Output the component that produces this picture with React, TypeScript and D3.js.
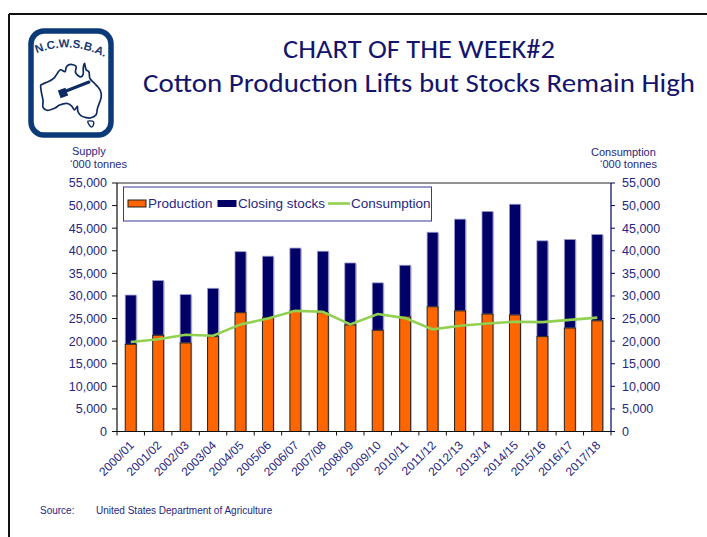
import React from 'react';
import * as d3 from 'd3';

const categories = ['2000/01','2001/02','2002/03','2003/04','2004/05','2005/06','2006/07','2007/08','2008/09','2009/10','2010/11','2011/12','2012/13','2013/14','2014/15','2015/16','2016/17','2017/18'];
const production = [19300, 21300, 19600, 21000, 26300, 25200, 26700, 26300, 23600, 22400, 25400, 27600, 26700, 26000, 25800, 21000, 22900, 24500];
const closingStocks = [10900, 12100, 10700, 10700, 13500, 13600, 13900, 13600, 13700, 10500, 11400, 16500, 20300, 22700, 24500, 21200, 19600, 19100];
const consumption = [19800, 20400, 21400, 21200, 23700, 25000, 26700, 26500, 23700, 26000, 25100, 22600, 23400, 23900, 24300, 24200, 24700, 25200];
const yTicks = [0, 5000, 10000, 15000, 20000, 25000, 30000, 35000, 40000, 45000, 50000, 55000];
const seriesNames = ['Production', 'Closing stocks', 'Consumption'];
const titleLines = ['CHART OF THE WEEK#2', 'Cotton Production Lifts but Stocks Remain High'];

// decorative logo outline (lon, lat)
const ausOutline: [number, number][] = [[113.5,-22],[114,-26],[115,-30],[115,-33.5],[117.5,-35],[123,-33.8],[126,-32.3],[131,-31.5],[134,-32.8],[135.8,-34.8],[137.7,-33],[138,-35.5],[140,-37.8],[143.5,-38.8],[146.3,-39],[150,-37.5],[151,-34],[153.5,-28],[153,-25],[150.8,-22.5],[149,-21],[146,-18.5],[145.3,-15],[143.5,-14],[142.5,-10.7],[141.6,-13],[141.5,-16.5],[140,-17.7],[136.5,-15.5],[136.8,-12.2],[132.5,-11.3],[130.5,-12.5],[129.5,-15],[126.5,-14],[123.5,-17],[122,-18.5],[119,-20],[116.5,-20.8],[114,-21.8]];
const tasOutline: [number, number][] = [[144.6,-40.7],[148.3,-40.9],[148,-43.2],[146.8,-43.6],[145.2,-42.2]];

const W = 707, H = 537;
const PL = 117, PR = 611, PT = 183, PB = 431.5;
const AX = 'Liberation Sans, Arial, sans-serif';
const TXT = '#27277f';

export default function App() {
  const x = d3.scaleBand<string>().domain(categories).range([PL, PR]).paddingInner(0.6).paddingOuter(0.3);
  const y = d3.scaleLinear().domain([0, 55000]).range([PB, PT]);
  const bw = x.bandwidth();
  const step = x.step();
  const cx = (c: string) => (x(c) as number) + bw / 2;
  const fmt = d3.format(',');
  const line = d3.line<number>().x((_, i) => cx(categories[i])).y(d => y(d));
  const boundaries = d3.range(categories.length + 1).map(i => PL + i * step);

  const lx = d3.scaleLinear().domain([113, 154]).range([40, 102]);
  const ly = d3.scaleLinear().domain([-10.5, -39]).range([63, 118]);
  const ausLine = d3.line<[number, number]>().x(d => lx(d[0])).y(d => ly(d[1])).curve(d3.curveCatmullRomClosed);

  return (
    <div style={{ position: 'absolute', left: 0, top: 0 }}>
      <svg width={W} height={H} style={{ display: 'block', background: '#fff' }}>
        {/* slide border */}
        <line x1={9} y1={14} x2={W} y2={14} stroke="#111" strokeWidth={2} />
        <line x1={9} y1={14} x2={9} y2={H} stroke="#111" strokeWidth={2} />

        {/* logo */}
        <g>
          <rect x={31} y={31} width={80} height={104} rx={13} fill="#fff" stroke="#0b3a78" strokeWidth={5.5} />
          <defs>
            <path id="logoArc" d="M 33 55 Q 70 38 108 59" />
          </defs>
          <text fontFamily={AX} fontWeight="bold" fontSize={11.5} fill="#1b3a72">
            <textPath href="#logoArc" startOffset="50%" textAnchor="middle">N.C.W.S.B.A.</textPath>
          </text>
          <path d={ausLine(ausOutline) as string} fill="#fff" stroke="#0d2a62" strokeWidth={1.7} />
          <path d={ausLine(tasOutline) as string} fill="#fff" stroke="#0d2a62" strokeWidth={1.4} />
          <line x1={66} y1={91} x2={89} y2={82} stroke="#0d2a62" strokeWidth={3} strokeLinecap="round" />
          <rect x={59} y={89} width={8} height={8} fill="#0d2a62" transform="rotate(-20 63 93)" />
        </g>

        {/* title */}
        <g fontFamily="Carlito, Calibri, Lato, sans-serif" fill="#14146e" textAnchor="middle">
          <text x={419} y={58} fontSize={27} textLength={272} lengthAdjust="spacingAndGlyphs">{titleLines[0]}</text>
          <text x={419} y={92} fontSize={27} textLength={552} lengthAdjust="spacingAndGlyphs">{titleLines[1]}</text>
        </g>

        {/* axis titles */}
        <g fontFamily={AX} fontSize={11} fill={TXT}>
          <text x={72} y={155}>Supply</text>
          <text x={70} y={168}>‘000 tonnes</text>
          <text x={591} y={156}>Consumption</text>
          <text x={600} y={168}>‘000 tonnes</text>
        </g>

        {/* bars */}
        {categories.map((c, i) => (
          <g key={c}>
            <rect x={(x(c) as number) + 1.2} y={y(production[i] + closingStocks[i]) + 1} width={bw}
              height={PB - y(production[i] + closingStocks[i]) - 1} fill="#9a9a9a" opacity={0.55} />
            <rect x={x(c)} y={y(production[i] + closingStocks[i])} width={bw}
              height={y(production[i]) - y(production[i] + closingStocks[i])}
              fill="#000066" stroke="#9a9acc" strokeWidth={0.8} />
            <rect x={x(c)} y={y(production[i])} width={bw} height={PB - y(production[i])}
              fill="#ff6600" stroke="#222" strokeWidth={1} />
          </g>
        ))}

        {/* consumption line */}
        <path d={line(consumption) as string} fill="none" stroke="#92d050" strokeWidth={2.6} />

        {/* frame & axes */}
        <line x1={PL} y1={PT} x2={PR} y2={PT} stroke="#222" strokeWidth={1} />
        <line x1={PL} y1={PT} x2={PL} y2={PB} stroke="#111" strokeWidth={1.2} />
        <line x1={PR} y1={PT} x2={PR} y2={PB} stroke="#000066" strokeWidth={1.2} />
        <line x1={PL} y1={PB} x2={PR} y2={PB} stroke="#111" strokeWidth={1.2} />
        {boundaries.map((b, i) => (
          <line key={i} x1={b} y1={PB} x2={b} y2={PB + 4} stroke="#111" strokeWidth={1} />
        ))}
        <g fontFamily={AX} fontSize={12.5} fill={TXT}>
          {yTicks.map(t => (
            <g key={t}>
              <line x1={PL - 5} x2={PL} y1={y(t)} y2={y(t)} stroke="#111" strokeWidth={1} />
              <text x={107} y={y(t)} dy="0.35em" textAnchor="end">{fmt(t)}</text>
              <line x1={PR} x2={PR + 4} y1={y(t)} y2={y(t)} stroke="#000066" strokeWidth={1} />
              <text x={622} y={y(t)} dy="0.35em" textAnchor="start">{fmt(t)}</text>
            </g>
          ))}
          {categories.map(c => (
            <text key={c} x={cx(c) + 4} y={446} textAnchor="end" fontSize={12}
              transform={`rotate(-45 ${cx(c) + 4} 446)`}>{c}</text>
          ))}
        </g>

        {/* legend */}
        <g fontFamily={AX} fontSize={13.5} fill={TXT}>
          <rect x={123.5} y={187} width={308} height={34} fill="#fff" stroke="#3a3a99" strokeWidth={1} />
          <rect x={128} y={200} width={18} height={7} fill="#ff6600" stroke="#222" strokeWidth={1} />
          <text x={148} y={208}>{seriesNames[0]}</text>
          <rect x={217.5} y={200} width={19} height={7} fill="#000066" />
          <text x={238} y={208}>{seriesNames[1]}</text>
          <line x1={328} x2={350} y1={203.5} y2={203.5} stroke="#92d050" strokeWidth={2.6} />
          <text x={351} y={208}>{seriesNames[2]}</text>
        </g>

        {/* source */}
        <g fontFamily={AX} fontSize={10} fill={TXT}>
          <text x={40} y={514}>Source:</text>
          <text x={96} y={514}>United States Department of Agriculture</text>
        </g>
      </svg>
    </div>
  );
}
